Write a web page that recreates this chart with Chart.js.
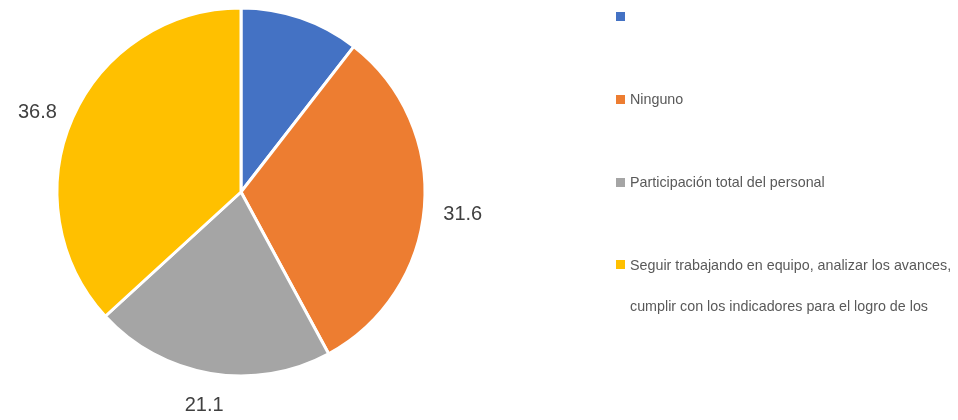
<!DOCTYPE html>
<html>
<head>
<meta charset="utf-8">
<script src="https://cdn.jsdelivr.net/npm/chart.js@4.4.1/dist/chart.umd.min.js"></script>
<style>
  html, body { margin: 0; padding: 0; background: #fff; }
  #wrap { position: relative; width: 958px; height: 420px; }
</style>
</head>
<body>
<div id="wrap"><canvas id="chartPie"></canvas></div>
<script>
'use strict';

// categories (the first one has no name), values and which values get a label
const CATEGORIES = [
  '',
  'Ninguno',
  'Participación total del personal',
  ['Seguir trabajando en equipo, analizar los avances,', 'cumplir con los indicadores para el logro de los'],
];
const VALUES      = [10.5, 31.6, 21.1, 36.8];
const SHOW_VALUE  = [false, true, true, true];
const COLORS      = ['#4472C4', '#ED7D31', '#A5A5A5', '#FFC000'];

const LABEL_FONT  = '20px "Liberation Sans", Arial, sans-serif';
const LEGEND_FONT = '14.3px "Liberation Sans", Arial, sans-serif';

// value labels just outside each slice, pushed out by half the text box
const valueLabels = {
  id: 'valueLabels',
  afterDatasetsDraw(chart) {
    const ctx = chart.ctx;
    const arcs = chart.getDatasetMeta(0).data;
    ctx.save();
    ctx.font = LABEL_FONT;
    ctx.fillStyle = '#404040';
    ctx.textAlign = 'center';
    ctx.textBaseline = 'middle';
    arcs.forEach((arc, i) => {
      if (!SHOW_VALUE[i]) return;
      const txt = VALUES[i].toFixed(1);
      const mid = (arc.startAngle + arc.endAngle) / 2;
      const dx = Math.cos(mid), dy = Math.sin(mid);
      const d = arc.outerRadius + 19;
      const w = ctx.measureText(txt).width, h = 16;
      ctx.fillText(txt, arc.x + dx * d + dx * w / 2, arc.y + dy * d + dy * h / 2 + 5);
    });
    ctx.restore();
  }
};

// legend column on the right
const sideLegend = {
  id: 'sideLegend',
  afterDraw(chart) {
    const ctx = chart.ctx;
    const x0 = 616, y0 = 16.5, rowGap = 82.8, lineGap = 41;
    ctx.save();
    ctx.font = LEGEND_FONT;
    ctx.textBaseline = 'middle';
    CATEGORIES.forEach((lab, i) => {
      const y = y0 + i * rowGap;
      ctx.fillStyle = COLORS[i];
      ctx.fillRect(x0, Math.round(y - 4.5), 9, 9);
      ctx.fillStyle = '#595959';
      const lines = Array.isArray(lab) ? lab : [lab];
      lines.forEach((ln, j) => ctx.fillText(ln, x0 + 14, y + 1 + j * lineGap));
    });
    ctx.restore();
  }
};

new Chart(document.getElementById('chartPie'), {
  type: 'pie',
  data: {
    labels: CATEGORIES,
    datasets: [{
      data: VALUES,
      backgroundColor: COLORS,
      borderColor: '#ffffff',
      borderWidth: 3,
      hoverOffset: 0,
    }]
  },
  options: {
    responsive: true,
    maintainAspectRatio: false,
    animation: false,
    radius: 184,
    layout: { padding: { left: 0, right: 476, top: 0, bottom: 36 } },
    plugins: { legend: { display: false }, tooltip: { enabled: false } },
  },
  plugins: [valueLabels, sideLegend],
});
</script>
</body>
</html>
